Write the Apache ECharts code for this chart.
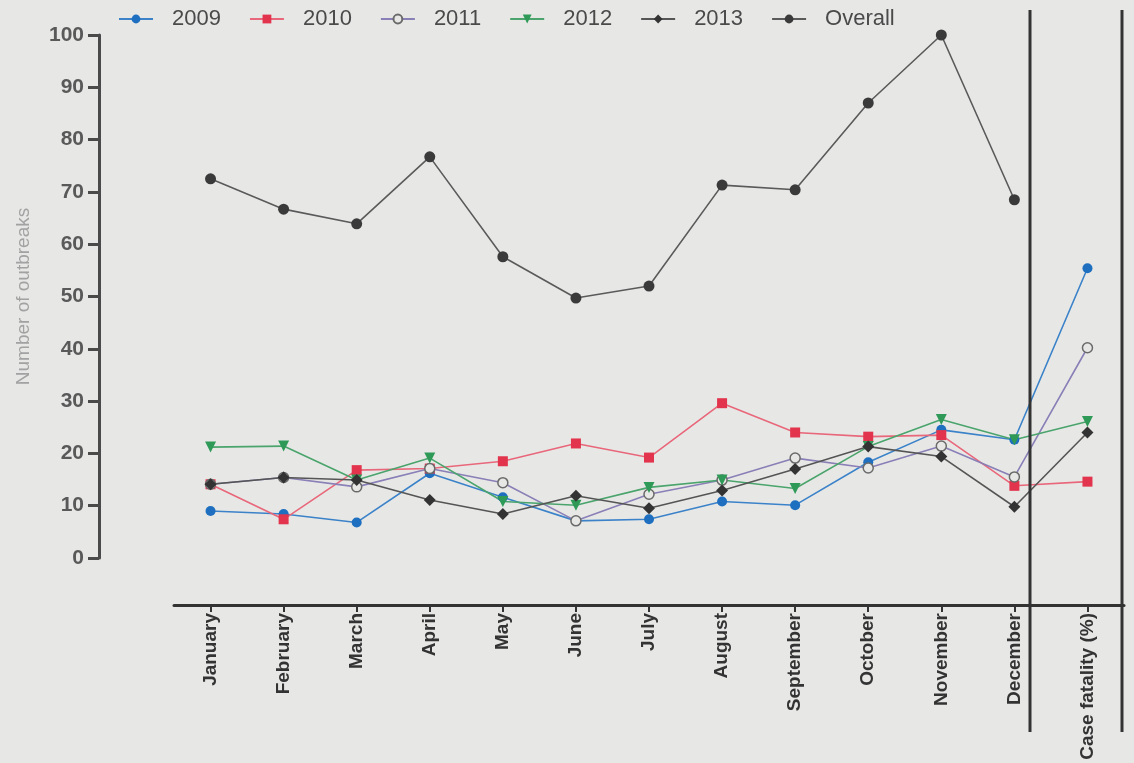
<!DOCTYPE html>
<html>
<head>
<meta charset="utf-8">
<script src="https://cdn.jsdelivr.net/npm/echarts@6/dist/echarts.min.js"></script>
<style>
html,body{margin:0;padding:0;background:#e7e8e6;}
#chart{width:1134px;height:763px;}
</style>
</head>
<body>
<div id="chart"></div>
<script>
var categories = ['January','February','March','April','May','June','July','August','September','October','November','December','Case fatality (%)'];
var yTicks = [0,10,20,30,40,50,60,70,80,90,100];
var s2009 = [9.0, 8.4, 6.8, 16.2, 11.6, 7.1, 7.4, 10.8, 10.1, 18.3, 24.5, 22.6, 55.4];
var s2010 = [14.1, 7.4, 16.8, 17.1, 18.5, 21.9, 19.2, 29.6, 24.0, 23.2, 23.5, 13.8, 14.6];
var s2011 = [14.1, 15.4, 13.6, 17.1, 14.4, 7.1, 12.2, 14.9, 19.1, 17.2, 21.4, 15.5, 40.2];
var s2012 = [21.2, 21.4, 14.9, 19.1, 10.8, 10.1, 13.5, 14.9, 13.3, 21.3, 26.5, 22.6, 26.1];
var s2013 = [14.1, 15.4, 14.9, 11.1, 8.4, 11.9, 9.5, 12.9, 17.0, 21.3, 19.4, 9.8, 24.0];
var overall = [72.5, 66.7, 63.9, 76.7, 57.6, 49.7, 52.0, 71.3, 70.4, 87.0, 100, 68.5, null];

var chart = echarts.init(document.getElementById('chart'));
var FONT = '"Liberation Sans", Arial, sans-serif';
var BG = '#e7e8e6';

function line(name, data, color, lineColor, symbol, size, extra) {
  var s = {
    name: name, type: 'line', data: data,
    symbol: symbol, symbolSize: size,
    itemStyle: {color: color},
    lineStyle: {color: lineColor, width: 1.6},
    emphasis: {disabled: true},
    z: 3
  };
  if (extra) { for (var k in extra) s[k] = extra[k]; }
  return s;
}

var option = {
  backgroundColor: BG,
  animation: false,
  textStyle: {fontFamily: FONT},
  legend: {
    left: 113, top: 3,
    itemWidth: 34, itemHeight: 11, itemGap: 28,
    textStyle: {fontSize: 22, color: '#4a4a4a', fontFamily: FONT, padding: [0,0,0,14]},
    data: ['2009','2010','2011','2012','2013','Overall']
  },
  grid: {left: 174, right: 10, top: 35, bottom: 205, containLabel: false},
  xAxis: {
    type: 'category', data: categories, boundaryGap: true,
    offset: 47,
    axisLine: {show: true, onZero: false, lineStyle: {color: '#333', width: 3}},
    axisTick: {show: true, alignWithLabel: true, length: 7, lineStyle: {color: '#333', width: 2}},
    axisLabel: {rotate: 90, margin: 8, fontSize: 19, fontWeight: 'bold', color: '#333', fontFamily: FONT},
    splitLine: {show: false}
  },
  yAxis: {
    type: 'value', min: 0, max: 100, interval: 10,
    offset: 75,
    name: 'Number of outbreaks', nameLocation: 'middle', nameGap: 66,
    nameTextStyle: {fontSize: 19, color: '#a2a2a2', fontFamily: FONT},
    axisLine: {show: true, lineStyle: {color: '#4a4a4a', width: 3}},
    axisTick: {show: true, length: 11, lineStyle: {color: '#4a4a4a', width: 3}},
    axisLabel: {margin: 15, fontSize: 21, fontWeight: 'bold', color: '#595959', fontFamily: FONT,
      formatter: function(v){ return yTicks.indexOf(v) >= 0 ? String(v) : ''; }},
    splitLine: {show: false}
  },
  graphic: [
    {type: 'line', shape: {x1: 1030, y1: 10, x2: 1030, y2: 732}, style: {stroke: '#333', lineWidth: 3}, z: 10},
    {type: 'line', shape: {x1: 1122, y1: 10, x2: 1122, y2: 732}, style: {stroke: '#333', lineWidth: 3}, z: 10}
  ],
  series: [
    line('2009', s2009, '#1f6fc0', '#3b82c9', 'circle', 10),
    line('2010', s2010, '#e2344c', '#e9677a', 'rect', 10),
    line('2011', s2011, BG, '#8a7fb6', 'circle', 10, {itemStyle: {color: BG, borderColor: '#6a6a6a', borderWidth: 1.5}}),
    line('2012', s2012, '#2f9a57', '#4aa46c', 'triangle', 11, {symbolRotate: 180}),
    line('2013', s2013, '#333333', '#555555', 'diamond', 12),
    line('Overall', overall, '#3a3a3a', '#5a5a5a', 'circle', 11)
  ]
};
chart.setOption(option);
</script>
</body>
</html>
